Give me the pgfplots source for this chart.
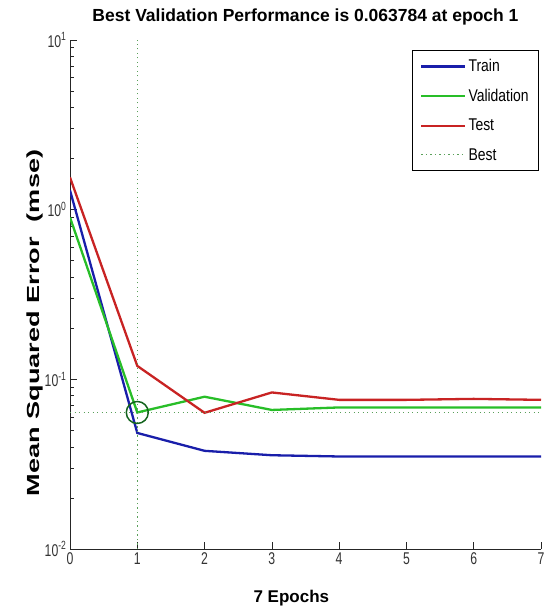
\documentclass[border=0pt]{standalone}
\usepackage{fontspec}
\setmainfont{Liberation Sans}
\newfontfamily\tickfont[FakeStretch=0.72]{Liberation Sans}
\newfontfamily\legfont[FakeStretch=0.82]{Liberation Sans}
\newfontfamily\ylabfont[FakeStretch=1.55]{Liberation Sans}
\usepackage{pgfplots}
\pgfplotsset{compat=1.18}
\definecolor{trainc}{RGB}{25,30,170}
\definecolor{valc}{RGB}{40,190,40}
\definecolor{testc}{RGB}{200,35,35}
\definecolor{bestc}{RGB}{90,160,90}
\definecolor{circc}{RGB}{20,100,30}
\begin{document}
\begin{tikzpicture}
\begin{axis}[
  scale only axis, width=471bp, height=509bp,
  ymode=log, xmin=0, xmax=7, ymin=0.01, ymax=10,
  axis x line=bottom, axis y line=left,
  axis line style={-, line width=0.8bp, color=black!85},
  every tick/.style={black!85, line width=0.6bp},
  tick align=inside, major tick length=7bp, minor tick length=4bp,
  xtick={0,1,2,3,4,5,6,7},
  ytick={0.01,0.1,1,10},
  yticklabels={10\textsuperscript{-2},10\textsuperscript{-1},10\textsuperscript{0},10\textsuperscript{1}},
  /pgf/number format/assume math mode=true,
  xticklabel style={font=\tickfont\fontsize{17bp}{20bp}\selectfont, text=black!80},
  yticklabel style={font=\tickfont\fontsize{17bp}{20bp}\selectfont, text=black!80},
  title={Best Validation Performance is 0.063784 at epoch 1},
  title style={font=\bfseries\fontsize{17.5bp}{20bp}\selectfont, at={(axis description cs:0.5,1)}, anchor=south, inner sep=0pt, yshift=9bp},
  xlabel={7 Epochs},
  xlabel style={font=\bfseries\fontsize{17bp}{20bp}\selectfont, at={(axis description cs:0.47,-0.106)}, anchor=base, inner sep=0pt},
  ylabel={Mean Squared Error\ \ (mse)},
  ylabel style={font=\ylabfont\bfseries\fontsize{17.5bp}{20bp}\selectfont, at={(axis description cs:-0.0637,0.444)}, anchor=base, rotate=0, inner sep=0pt},
  legend style={at={(rel axis cs:0.996,0.98)}, anchor=north east, draw=black, line width=0.8bp,
    font=\legfont\fontsize{17bp}{20bp}\selectfont, inner xsep=8bp, inner ysep=7bp, row sep=12bp},
  legend cell align=left,
  legend image code/.code={\draw[#1] (0bp,0bp) -- (44bp,0bp);},
]
\addplot[trainc, line width=2.3bp] coordinates {(0,1.30) (1,0.0483) (2,0.0379) (3,0.0357) (4,0.0351) (5,0.0351) (6,0.0351) (7,0.0351)};
\addlegendentry{Train}
\addplot[valc, line width=2.3bp] coordinates {(0,0.90) (1,0.063784) (2,0.079) (3,0.066) (4,0.0683) (5,0.0683) (6,0.0683) (7,0.0683)};
\addlegendentry{Validation}
\addplot[testc, line width=2.3bp] coordinates {(0,1.55) (1,0.120) (2,0.0635) (3,0.0837) (4,0.0757) (5,0.0757) (6,0.0767) (7,0.0757)};
\addlegendentry{Test}
\addplot[bestc, line width=1bp, dash pattern=on 1.2bp off 3.3bp] coordinates {(0,0.063784) (7,0.063784)};
\addlegendentry{Best}
\addplot[bestc, line width=1bp, dash pattern=on 1.2bp off 3.3bp, forget plot] coordinates {(1,0.01) (1,10)};
\addplot[only marks, mark=o, mark size=11bp, mark options={draw=circc, line width=1.5bp}, forget plot] coordinates {(1,0.063784)};
\end{axis}
\path[use as bounding box] ([xshift=-70bp,yshift=-62bp]current axis.south west) rectangle ([xshift=6bp,yshift=40bp]current axis.north east);
\end{tikzpicture}
\end{document}
